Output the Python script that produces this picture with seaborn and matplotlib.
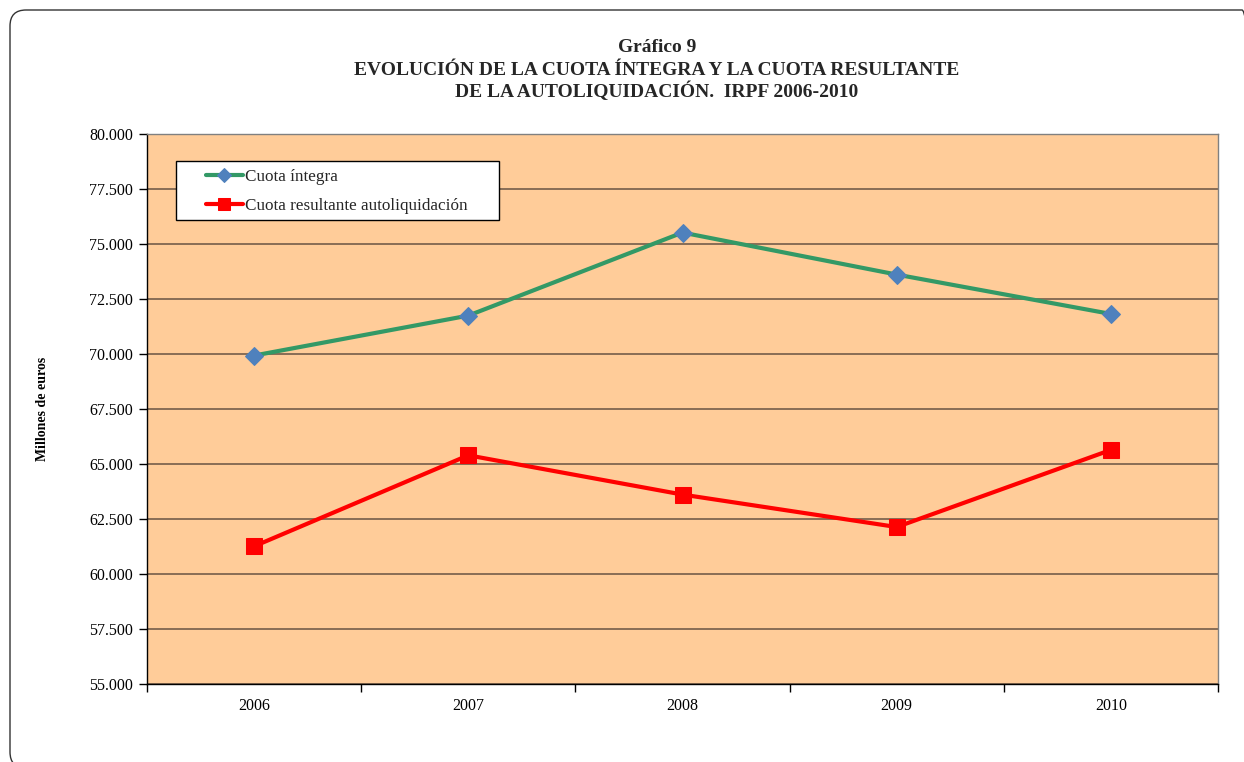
import matplotlib
matplotlib.use("Agg")
import matplotlib.pyplot as plt
import seaborn as sns
import pandas as pd
from matplotlib.patches import FancyBboxPatch, Rectangle
from matplotlib.transforms import IdentityTransform
from matplotlib.ticker import FixedLocator, FuncFormatter

years = ["2006", "2007", "2008", "2009", "2010"]
cuota_integra = [69930, 71745, 75520, 73610, 71820]
cuota_resultante = [61260, 65395, 63610, 62135, 65640]
y_ticks = list(range(55000, 80001, 2500))

title_lines = ["Gráfico 9",
               "EVOLUCIÓN DE LA CUOTA ÍNTEGRA Y LA CUOTA RESULTANTE",
               "DE LA AUTOLIQUIDACIÓN.  IRPF 2006-2010"]
label_integra = "Cuota íntegra"
label_resultante = "Cuota resultante autoliquidación"

sns.set_theme(style="white")
plt.rcParams["font.family"] = ["Liberation Serif", "DejaVu Serif"]

W, H = 1244, 762
fig = plt.figure(figsize=(W / 100, H / 100), dpi=100)
fig.patch.set_facecolor("white")

# rounded outer frame (partly cut by the image edges), in pixel coordinates
frame = FancyBboxPatch((10, -6), 1248, H - 10 + 6,
                       boxstyle="round,pad=0,rounding_size=16",
                       transform=IdentityTransform(), facecolor="none",
                       edgecolor="#333333", linewidth=1.0)
fig.patches.append(frame)

ax = fig.add_axes([147 / W, (H - 684) / H, (1218 - 147) / W, 550 / H])
ax.set_facecolor("#FFCC99")

df = pd.DataFrame({"pos": range(len(years)), "integra": cuota_integra,
                   "resultante": cuota_resultante})

sns.lineplot(data=df, x="pos", y="integra", ax=ax, color="#339966", linewidth=3,
             marker="D", markersize=9, markerfacecolor="#4F81BD",
             markeredgecolor="#4F81BD", label=label_integra, zorder=5)
sns.lineplot(data=df, x="pos", y="resultante", ax=ax, color="#FF0000", linewidth=3,
             marker="s", markersize=11.5, markerfacecolor="#FF0000",
             markeredgecolor="#FF0000", label=label_resultante, zorder=5)

ax.set_xlim(-0.5, len(years) - 0.5)
ax.set_ylim(55000, 80000)
ax.yaxis.set_major_locator(FixedLocator(y_ticks))
ax.yaxis.set_major_formatter(FuncFormatter(lambda v, p: f"{int(v):,}".replace(",", ".")))
ax.grid(axis="y", color="#7F6650", linewidth=1.3, zorder=1)
ax.set_axisbelow(True)

ax.set_xticks([i - 0.5 for i in range(len(years) + 1)])
ax.set_xticklabels([])
ax.set_xticks(range(len(years)), minor=True)
ax.set_xticklabels(years, minor=True)
ax.tick_params(axis="x", which="major", direction="out", length=6, width=1, color="black", bottom=True)
ax.tick_params(axis="x", which="minor", length=0, pad=10, labelsize=11.5)
ax.tick_params(axis="y", direction="out", length=6, width=1, color="black", left=True, labelsize=11.5, pad=4)
for lbl in ax.get_xticklabels(minor=True) + ax.get_yticklabels():
    lbl.set_color("black")

ax.set_xlabel("")
ax.set_ylabel("Millones de euros", fontsize=10, fontweight="bold", labelpad=29, color="black")

for s in ["top", "right"]:
    ax.spines[s].set_color("#808080")
    ax.spines[s].set_linewidth(1)
for s in ["left", "bottom"]:
    ax.spines[s].set_color("black")
    ax.spines[s].set_linewidth(1)

# legend: box drawn separately, entries placed inside it
aw, ah = 1071, 550
box = Rectangle(((176 - 147) / aw, (684 - 220) / ah), (499 - 176) / aw, 59 / ah,
                transform=ax.transAxes, facecolor="white", edgecolor="black",
                linewidth=1, zorder=10)
ax.add_patch(box)
leg = ax.legend(loc="upper left", bbox_to_anchor=((206 - 147) / aw, (684 - 169) / ah),
                frameon=False, fontsize=12.3, handlelength=2.15,
                borderpad=0.0, labelspacing=0.78, handletextpad=0.12, borderaxespad=0)
leg.set_zorder(11)
for line in leg.get_lines():
    line.set_linewidth(3)
leg.get_lines()[0].set_markersize(7)
leg.get_lines()[1].set_markersize(9)

for txt, yb in zip(title_lines, [52, 75, 97]):
    fig.text(657 / W, 1 - yb / H, txt, ha="center", va="baseline",
             fontsize=14, fontweight="bold")

fig.savefig("out.png", dpi=100)
